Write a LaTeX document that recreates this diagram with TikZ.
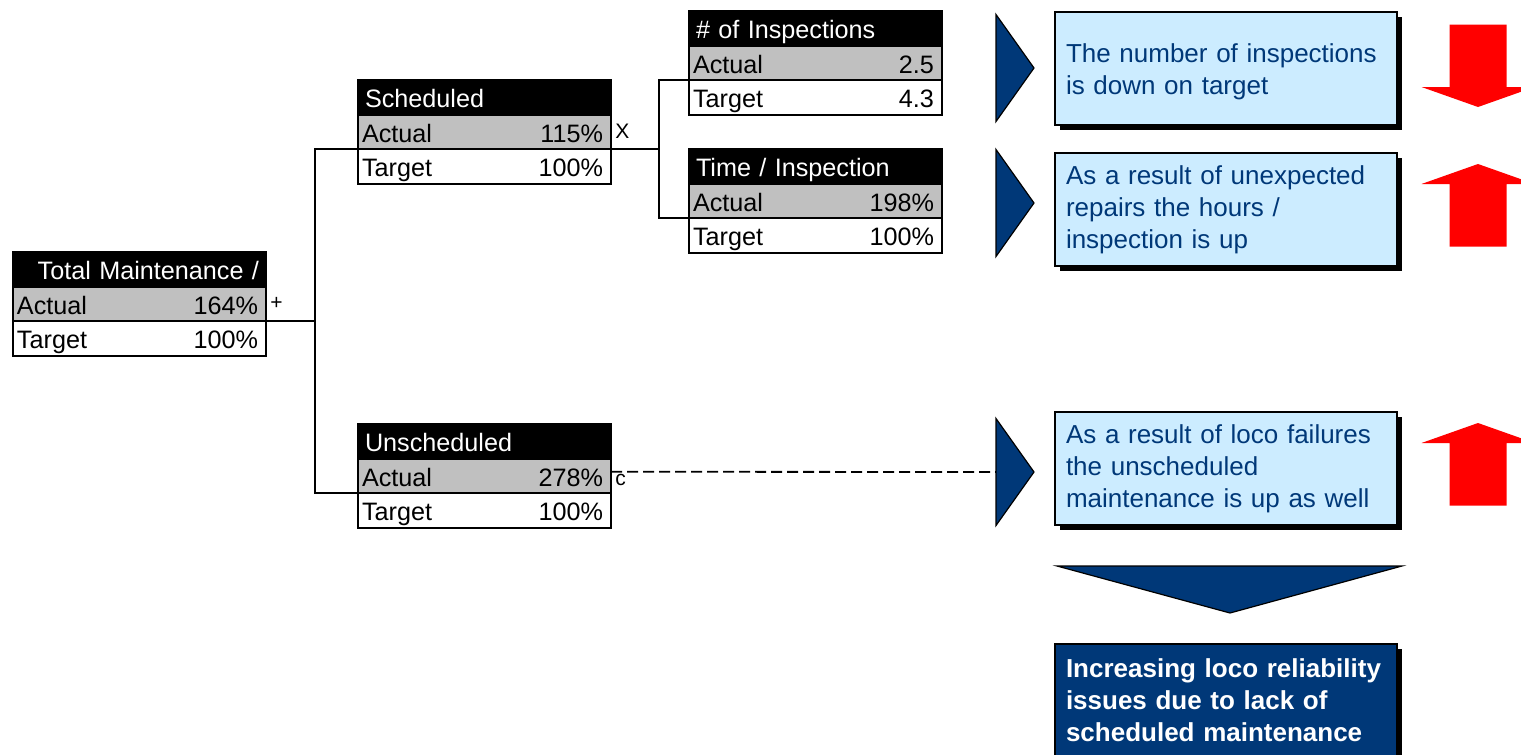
\documentclass[tikz,border=0pt]{standalone}
\usepackage{fontspec}
\setmainfont{Liberation Sans}
\usetikzlibrary{positioning, calc, shadows}
\definecolor{basenavy}{RGB}{0,56,120}
\definecolor{notefill}{RGB}{204,236,255}
\definecolor{rowgray}{RGB}{192,192,192}
\definecolor{alertred}{RGB}{255,0,0}
\newcommand{\kpipair}[2]{#1\hskip 0pt plus 1filll #2\kern2pt}
\newcommand{\kpimid}[1]{\hskip 0pt plus 1filll #1\hskip 0pt plus 1filll}

\begin{document}
\begin{tikzpicture}[x=0.5pt, y=-0.5pt]
  \tikzset{
    kpi_row/.style={
      rectangle, draw=black, line width=1pt, outer sep=0pt, minimum height=17.25pt,
      text height=10.5pt, text depth=0pt, font=\fontsize{12.6}{15}\selectfont,
      inner xsep=2pt, text width=122.5pt
    },
    kpi_title/.style={kpi_row, fill=black, text=white, inner xsep=3.5pt, text width=119.5pt},
    kpi_actual/.style={kpi_row, fill=rowgray},
    kpi_target/.style={kpi_row, fill=white},
    tree_line/.style={draw=black, line width=1pt},
    dash_link/.style={draw=black, line width=0.9pt, dash pattern=on 5.5pt off 2.5pt},
    op_label/.style={font=\fontsize{10.5}{12}\selectfont, inner sep=1pt, anchor=west},
    chevron/.style={fill=basenavy, draw=black, line width=0.6pt},
    red_arrow/.style={fill=alertred},
    note_box/.style={
      rectangle, draw=black, line width=1pt, fill=notefill, text=basenavy,
      font=\fontsize{13}{16}\selectfont, align=left, text width=160pt, inner xsep=5.5pt,
      minimum height=56.5pt, anchor=north west,
      drop shadow={shadow xshift=2.5pt, shadow yshift=-2.5pt, fill=black, opacity=1}
    },
    result_box/.style={note_box, fill=basenavy, text=white, font=\fontsize{13}{16}\selectfont\bfseries}
  }

  \useasboundingbox (0,0) rectangle (1521,755);
  \clip (0,0) rectangle (1521,755);

  % Draw the KPI tables, a title row, an actual row and a target row each
  \foreach \n/\px/\py/\ttl/\act/\tgt in {
      total/13/252/{\kpimid{Total Maintenance /}}/164\%/100\%,
      sched/358/80/Scheduled/115\%/100\%,
      unsched/358/424/Unscheduled/278\%/100\%,
      insp/689/11/{\# of Inspections}/2.5/4.3,
      time/689/149/{Time / Inspection}/198\%/100\%} {
    \node[kpi_title, anchor=north west] (\n-t) at (\px,\py) {\ttl};
    \node[kpi_actual, below=0pt of \n-t] (\n-a) {\kpipair{Actual}{\act}};
    \node[kpi_target, below=0pt of \n-a] (\n-g) {\kpipair{Target}{\tgt}};
  }

  % Draw the tree connectors between the tables
  \coordinate (split-total) at ($(total-a.south east)+(24.5pt,0)$);
  \draw[tree_line] (total-a.south east) -- (split-total) |- (sched-a.south west);
  \draw[tree_line] (split-total) |- (unsched-a.south west);
  \coordinate (split-sched) at ($(sched-a.south east)+(24pt,0)$);
  \draw[tree_line] (sched-a.south east) -- (split-sched) |- (insp-a.south west);
  \draw[tree_line] (split-sched) |- (time-a.south west);

  % Operators next to the tables
  \node[op_label, xshift=1pt] (op-total) at (total-a.east) {+};
  \node[op_label, xshift=1pt] (op-sched) at (sched-a.east) {X};
  \node[op_label, xshift=1pt, yshift=-2pt] (op-unsched) at (unsched-a.east) {c};

  % Draw the chevrons pointing to the notes
  \foreach \ty [count=\i] in {68,203,472} {
    \coordinate (chev-\i) at (996,\ty);
  }
  \draw[dash_link] (unsched-a.east) ++(0,-4) -- (chev-3);
  \foreach \ty [count=\i] in {68,203,472} {
    \filldraw[chevron] (996,\ty-53.5) -- (1034,\ty) -- (996,\ty+53.5) -- cycle;
  }

  % Draw the notes and the conclusion
  \node[note_box] (note-insp) at (1054,11) {\rule{0pt}{13pt}The number of inspections\\is down on target};
  \node[note_box] (note-time) at (1054,152) {As a result of unexpected\\repairs the hours /\\inspection is up};
  \node[note_box] (note-unsched) at (1054,411) {As a result of loco failures\\the unscheduled\\maintenance is up as well};
  \filldraw[chevron] (1057,566) -- (1402,566) -- (1230,613) -- cycle;
  \node[result_box] (result) at (1054,643) {Increasing loco reliability\\issues due to lack of\\scheduled maintenance};

  % Draw the red trend arrows, -1 points down and 1 points up
  \foreach \tipy/\s in {107/-1, 164/1, 423/1} {
    \fill[red_arrow] (1478,\tipy) -- ++(56.5,{20*(\s)}) -- ++(-28,0) -- ++(0,{62.5*(\s)})
      -- ++(-57,0) -- ++(0,{-62.5*(\s)}) -- ++(-28,0) -- cycle;
  }
\end{tikzpicture}
\end{document}
